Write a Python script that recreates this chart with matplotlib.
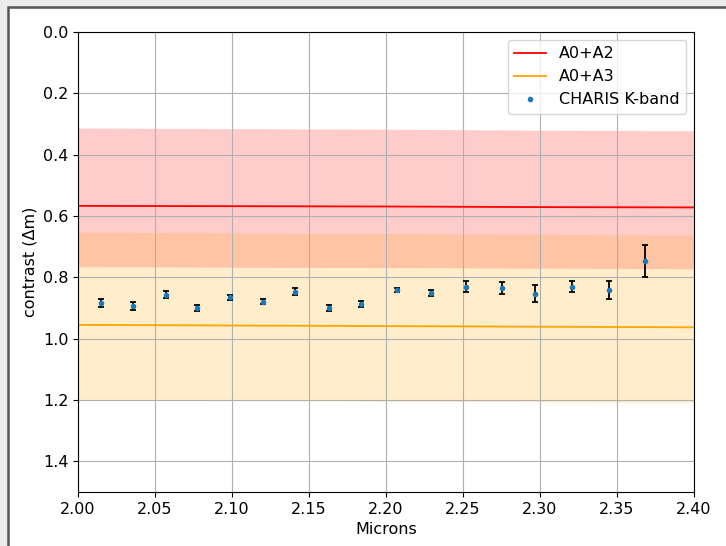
import numpy as np
import matplotlib
matplotlib.use("Agg")
import matplotlib.pyplot as plt
from matplotlib.patches import Rectangle

# modelos de contraste (A0+A2, A0+A3) ao longo da banda K
lam_modelo = [2.00, 2.10, 2.20, 2.30, 2.40]
a2_centro = [0.567, 0.568, 0.569, 0.571, 0.572]
a2_sup = [0.313, 0.315, 0.317, 0.320, 0.322]
a2_inf = [0.765, 0.767, 0.768, 0.770, 0.772]
a3_centro = [0.955, 0.957, 0.959, 0.961, 0.963]
a3_sup = [0.653, 0.655, 0.657, 0.660, 0.662]
a3_inf = [1.200, 1.202, 1.204, 1.206, 1.208]

# medidas CHARIS K-band
lam_charis = [2.015, 2.036, 2.057, 2.077, 2.099, 2.120, 2.141, 2.163, 2.184,
              2.207, 2.229, 2.252, 2.275, 2.297, 2.321, 2.345, 2.368]
contraste = [0.883, 0.893, 0.856, 0.901, 0.865, 0.879, 0.847, 0.899, 0.888,
             0.842, 0.851, 0.830, 0.835, 0.853, 0.830, 0.842, 0.746]
erro = [0.013, 0.013, 0.013, 0.010, 0.008, 0.007, 0.011, 0.010, 0.010,
        0.007, 0.009, 0.017, 0.019, 0.027, 0.017, 0.030, 0.053]

plt.rcParams['font.size'] = 11.5

fig = plt.figure(figsize=(7.26, 5.46), dpi=100, facecolor='#ececec')
# moldura da figura
fig.add_artist(Rectangle((8 / 726, -0.1), 1.2, 1.1 - 6.5 / 546 + 0.0,
                         transform=fig.transFigure, facecolor='white',
                         edgecolor='#555555', linewidth=1.8, zorder=-10))
ax = fig.add_axes([78 / 726, 1 - 492 / 546, (694 - 78) / 726, (492 - 32) / 546])

ax.fill_between(lam_modelo, a2_sup, a2_inf, color='red', alpha=0.2, linewidth=0)
ax.plot(lam_modelo, a2_centro, color='red', lw=1.3, label='A0+A2')
ax.fill_between(lam_modelo, a3_sup, a3_inf, color='orange', alpha=0.2, linewidth=0)
ax.plot(lam_modelo, a3_centro, color='orange', lw=1.3, label='A0+A3')

ax.errorbar(lam_charis, contraste, yerr=erro, fmt='none', ecolor='black',
            elinewidth=1.3, capsize=2.5, capthick=1.3)
ax.plot(lam_charis, contraste, '.', color='tab:blue', markersize=6,
        label='CHARIS K-band')

ax.set_xlim(2.00, 2.40)
ax.set_ylim(1.5, 0.0)
ax.set_xticks(np.arange(2.00, 2.401, 0.05))
ax.set_yticks(np.arange(0.0, 1.41, 0.2))
ax.set_xlabel('Microns')
ax.set_ylabel('contrast (Δm)')
ax.grid(True)
ax.legend(loc='upper right')

fig.savefig('out.png', dpi=100, facecolor=fig.get_facecolor())
